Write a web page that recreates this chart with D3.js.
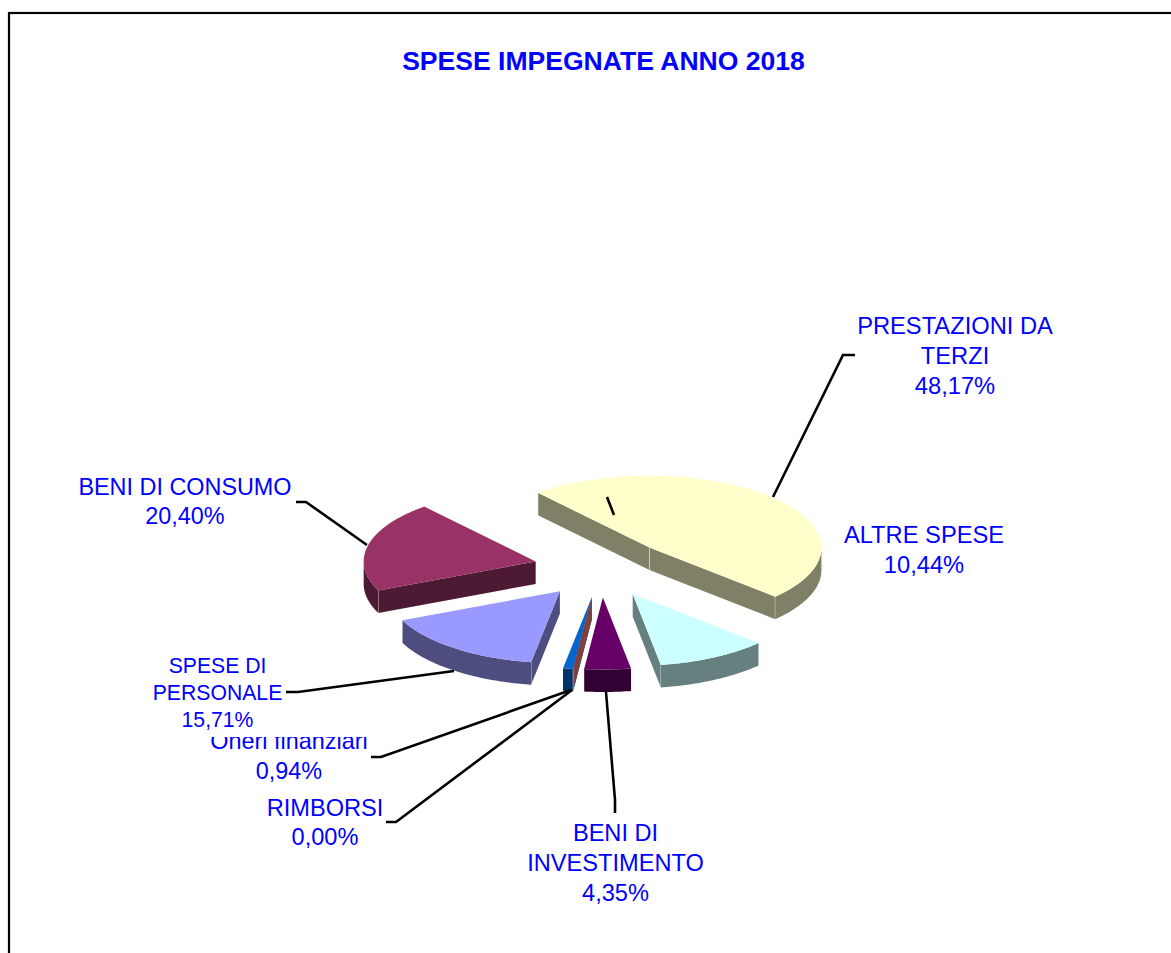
<!DOCTYPE html>
<html>
<head>
<meta charset="utf-8">
<script src="https://cdn.jsdelivr.net/npm/d3@7"></script>
<style>
html,body{margin:0;padding:0;background:#fff;overflow:hidden}
svg{display:block}
text{font-family:"Liberation Sans",Arial,sans-serif;fill:#0000ff;text-anchor:middle}
</style>
</head>
<body>
<script>
// values, clockwise from the big slice
const categories = ["PRESTAZIONI DA TERZI","ALTRE SPESE","BENI DI INVESTIMENTO","RIMBORSI","Oneri finanziari","SPESE DI PERSONALE","BENI DI CONSUMO"];
const percents = [48.17,10.44,4.35,0.00,0.94,15.71,20.40];
const percentLabels = ["48,17%","10,44%","4,35%","0,00%","0,94%","15,71%","20,40%"];
const sliceColors = ["#FFFFCC","#CCFFFF","#660066","#FF8080","#0066CC","#9999FF","#993366"];
const chartTitle = "SPESE IMPEGNATE ANNO 2018";

const width = 1171, height = 953;
const cx = 601, cy = 568;       // centre of the pie before exploding
const rx = 172, ry = 72;        // ellipse radii of the tilted disc
const depth = 22.5;
const explodeX = 67, explodeY = 29.5;
const firstAngle = -40.4 * Math.PI / 180;

const svg = d3.select("body").append("svg")
    .attr("width", width)
    .attr("height", height);

// frame, only top and left are in the shot
svg.append("rect")
    .attr("x", 9).attr("y", 13)
    .attr("width", width + 20).attr("height", height + 20)
    .attr("fill", "#fff")
    .attr("stroke", "#000")
    .attr("stroke-width", 2.2);

svg.append("text")
    .attr("x", 603.5).attr("y", 70)
    .attr("font-size", 26.55)
    .attr("font-weight", "bold")
    .text(chartTitle);

const pie = d3.pie()
    .sort(null)
    .startAngle(firstAngle)
    .endAngle(firstAngle + 2 * Math.PI);

const arcs = pie(percents).map((d, i) => ({...d, name: categories[i], color: sliceColors[i], idx: i}));

function pt(a, dx, dy){
    return [dx + rx * Math.sin(a), dy - ry * Math.cos(a)];
}
function offset(d){
    let m = (d.startAngle + d.endAngle) / 2;
    return [cx + explodeX * Math.sin(m), cy - explodeY * Math.cos(m)];
}
function darker(c){
    let col = d3.rgb(c);
    return d3.rgb(col.r / 2, col.g / 2, col.b / 2).formatHex();
}
const line = d3.line();

function arcPoints(a0, a1, o){
    let n = Math.max(2, Math.ceil((a1 - a0) * 60));
    return d3.range(n + 1).map(k => pt(a0 + (a1 - a0) * k / n, o[0], o[1]));
}

function edgeLine(g, p){
    g.append("path")
        .attr("d", line([p, [p[0], p[1] + depth]]))
        .attr("stroke", "#fff").attr("stroke-opacity", 0.45).attr("stroke-width", 1);
}

function cutFace(g, a, o, fill){
    let p = pt(a, o[0], o[1]);
    g.append("path")
        .attr("d", line([[o[0], o[1]], p, [p[0], p[1] + depth], [o[0], o[1] + depth]]) + "Z")
        .attr("fill", fill);
    edgeLine(g, p);
}

// the empty slice has no explosion of its own, its face sits against the next slice
function drawSlice(d){
    let g = svg.append("g").attr("class", "slice");
    let wall = darker(d.color);
    if(d.value === 0){
        cutFace(g, d.startAngle, offset(arcs[d.idx + 1]), wall);
        return;
    }
    let o = offset(d);
    let showStart = Math.sin(d.startAngle) < 0;
    let showEnd = Math.sin(d.endAngle) > 0;
    if(showStart) cutFace(g, d.startAngle, o, wall);
    if(showEnd) cutFace(g, d.endAngle, o, wall);
    if(showStart && showEnd) edgeLine(g, o);

    // round wall, only the front half of the ellipse shows
    let a0 = Math.max(d.startAngle, Math.PI / 2);
    let a1 = Math.min(d.endAngle, 3 * Math.PI / 2);
    if(a1 > a0){
        let top = arcPoints(a0, a1, o);
        let bottom = top.map(p => [p[0], p[1] + depth]).reverse();
        g.append("path")
            .attr("d", line(top.concat(bottom)) + "Z")
            .attr("fill", wall);
    }

    let rim = arcPoints(d.startAngle, d.endAngle, o);
    g.append("path")
        .attr("d", line([[o[0], o[1]]].concat(rim)) + "Z")
        .attr("fill", d.color);
}

arcs.filter(d => d.value > 0).forEach(drawSlice);
arcs.filter(d => d.value === 0).forEach(drawSlice);

// label layout: lines come from categories, the last one is the percent
const labelLayout = {
    "PRESTAZIONI DA TERZI": {x: 955, y: [334,364,394], size: 23.7, lines: ["PRESTAZIONI DA","TERZI"]},
    "ALTRE SPESE": {x: 924, y: [543,573], size: 23.7, lines: ["ALTRE SPESE"]},
    "BENI DI CONSUMO": {x: 185, y: [495,524], size: 23.4, lines: ["BENI DI CONSUMO"]},
    "BENI DI INVESTIMENTO": {x: 615.5, y: [841,871,901], size: 23.6, lines: ["BENI DI","INVESTIMENTO"]},
    "RIMBORSI": {x: 325, y: [816,845], size: 23.6, lines: ["RIMBORSI"]},
    "Oneri finanziari": {x: 289, y: [749,779], size: 23.4, lines: ["Oneri finanziari"]},
    "SPESE DI PERSONALE": {x: 217.5, y: [673,700,727], size: 21.2, lines: ["SPESE DI","PERSONALE"], box: [150,650,225,87]}
};
const drawOrder = ["PRESTAZIONI DA TERZI","ALTRE SPESE","BENI DI CONSUMO","BENI DI INVESTIMENTO","RIMBORSI","Oneri finanziari","SPESE DI PERSONALE"];
drawOrder.forEach(name => {
    let l = labelLayout[name];
    let i = categories.indexOf(name);
    if(l.box){
        // this label has a white box that eats the top of the one below
        svg.append("rect")
            .attr("x", l.box[0]).attr("y", l.box[1])
            .attr("width", l.box[2]).attr("height", l.box[3])
            .attr("fill", "#fff");
    }
    l.lines.concat(percentLabels[i]).forEach((t, k) => {
        svg.append("text")
            .attr("x", l.x).attr("y", l.y[k])
            .attr("font-size", l.size)
            .text(t);
    });
});

// leader lines
const leaders = [
    [[855,355],[843,355],[773,497]],
    [[607,497],[614,515]],
    [[296,502],[306,502],[367,545]],
    [[286,692],[298,692],[454,671]],
    [[371,757],[381,757],[571,690]],
    [[386,822],[396,822],[572,690]],
    [[606,692],[615,800],[615,813]]
];
svg.selectAll(".leader").data(leaders).enter().append("path")
    .attr("class", "leader")
    .attr("d", d => line(d))
    .attr("fill", "none")
    .attr("stroke", "#000")
    .attr("stroke-width", 2.6);
</script>
</body>
</html>
